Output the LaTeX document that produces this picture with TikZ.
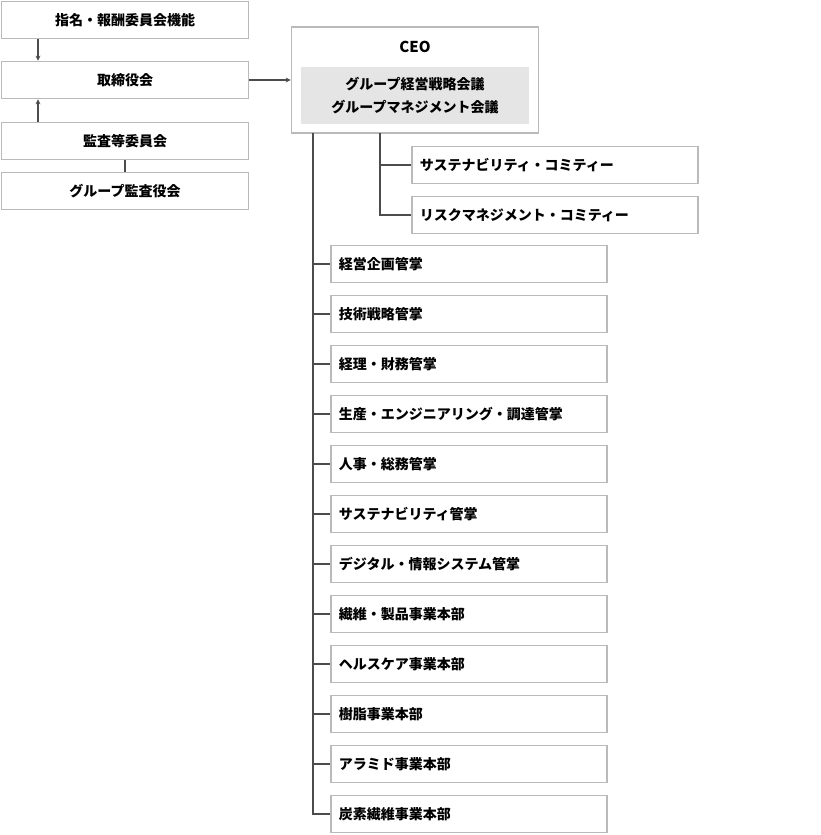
\documentclass[tikz,border=0pt]{standalone}
\usepackage{fontspec}
\newfontfamily\cjk{Noto Sans CJK JP}
\usetikzlibrary{arrows.meta,positioning}
\tikzset{
    box color/.style={black!27},
    line color/.style={black!70},
    box/.style={draw=black!27,line width=1.6pt,minimum height=37pt,inner sep=0pt,font=\cjk\bfseries\fontsize{14}{17}\selectfont},
    leftbox/.style={box,minimum width=247pt},
    subbox/.style={box,minimum width=286pt,anchor=west,text width=270pt,align=left},
    deptbox/.style={box,minimum width=276pt,anchor=west,text width=260pt,align=left},
    arr/.style={->,>={Stealth[length=5pt,width=5pt]},line color,line width=1.2pt},
    conn/.style={line color,line width=1.2pt},
}
\begin{document}
\begin{tikzpicture}[x=1pt,y=-1pt]
    \useasboundingbox (0,0) rectangle (821,835);
    % governance
    \node[leftbox] (nom) at (125,20) {指名・報酬委員会機能};
    \node[leftbox] (board) at (125,80) {取締役会};
    \node[leftbox] (audit) at (125,141) {監査等委員会};
    \node[leftbox] (gaudit) at (125,191) {グループ監査役会};
    \draw[arr] (nom.south -| 38,0) -- (board.north -| 38,0);
    \draw[arr] (audit.north -| 38,0) -- (board.south -| 38,0);
    \draw[conn] (audit) -- (gaudit);
    % CEO
    \node[draw=black!27,line width=1.6pt,minimum width=247pt,minimum height=106pt,inner sep=0pt] (ceo) at (415,80) {};
    \node[fill=black!10,minimum width=228pt,minimum height=57pt,inner sep=0pt,align=center,font=\cjk\bfseries\fontsize{14}{23}\selectfont] (mtg) at (415,95.5) {グループ経営戦略会議\\グループマネジメント会議};
    \node[font=\cjk\bfseries\fontsize{15}{17}\selectfont] (ceolbl) at (415,47) {CEO};
    \draw[arr] (board.east) -- (ceo.west);
    % committees
    \coordinate (cbr) at (380,133);
    \foreach \t/\y [count=\i] in {サステナビリティ・コミティー/165,リスクマネジメント・コミティー/215} {
        \node[subbox] (com\i) at (411,\y) {\t};
        \draw[conn] (cbr) |- (com\i.west);
    }
    % divisions
    \coordinate (dbr) at (313,133);
    \foreach \t [count=\i] in {経営企画管掌,技術戦略管掌,経理・財務管掌,生産・エンジニアリング・調達管掌,人事・総務管掌,サステナビリティ管掌,デジタル・情報システム管掌,繊維・製品事業本部,ヘルスケア事業本部,樹脂事業本部,アラミド事業本部,炭素繊維事業本部} {
        \node[deptbox] (d\i) at (330,214+50*\i) {\t};
        \draw[conn] (dbr) |- (d\i.west);
    }
\end{tikzpicture}
\end{document}
